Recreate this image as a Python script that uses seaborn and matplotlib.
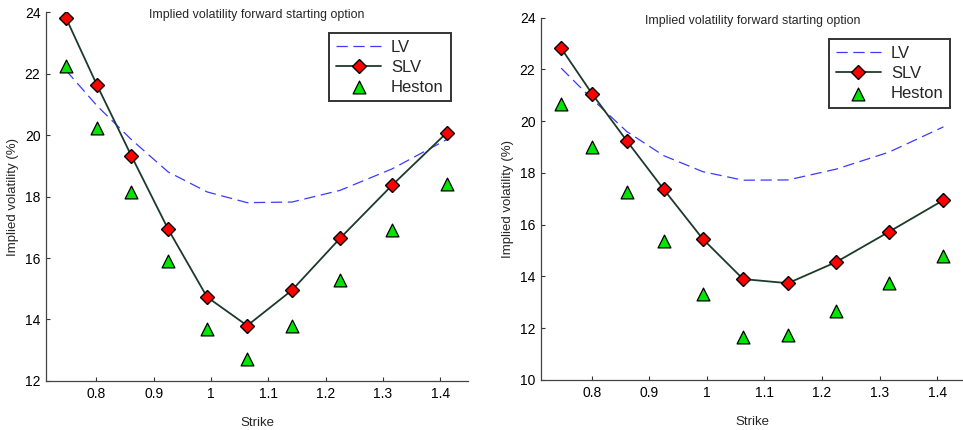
import matplotlib
matplotlib.use("Agg")
import matplotlib.pyplot as plt
import seaborn as sns
import pandas as pd

sns.set_style("white")
plt.rcParams['font.family'] = ['Liberation Sans', 'DejaVu Sans']

strikes = [0.747, 0.801, 0.861, 0.925, 0.993, 1.063, 1.141, 1.225, 1.316, 1.411]

lv_left = [22.10, 20.95, 19.85, 18.80, 18.15, 17.80, 17.82, 18.20, 18.90, 19.85]
slv_left = [23.80, 21.62, 19.32, 16.94, 14.73, 13.80, 14.95, 16.64, 18.37, 20.07]
heston_left = [22.23, 20.24, 18.15, 15.89, 13.70, 12.73, 13.79, 15.27, 16.90, 18.42]

lv_right = [22.05, 20.85, 19.60, 18.67, 18.05, 17.72, 17.73, 18.15, 18.80, 19.78]
slv_right = [22.82, 21.05, 19.24, 17.37, 15.45, 13.90, 13.74, 14.56, 15.72, 16.95]
heston_right = [20.67, 19.00, 17.25, 15.36, 13.32, 11.66, 11.72, 12.68, 13.73, 14.80]

y_ticks_left = [12, 14, 16, 18, 20, 22, 24]
y_ticks_right = [10, 12, 14, 16, 18, 20, 22, 24]
x_ticks = [0.8, 0.9, 1.0, 1.1, 1.2, 1.3, 1.4]
x_tick_labels = ["0.8", "0.9", "1", "1.1", "1.2", "1.3", "1.4"]

title = "Implied volatility forward starting option"

fig = plt.figure(figsize=(9.63, 4.30), dpi=100)
ax1 = fig.add_axes([0.0478, 0.114, 0.438, 0.858])
ax2 = fig.add_axes([0.5618, 0.1163, 0.440, 0.8426])

def draw(ax, lv, slv, heston, yticks, legend_anchor):
    df = pd.DataFrame({"Strike": strikes, "LV": lv, "SLV": slv, "Heston": heston})
    sns.lineplot(data=df, x="Strike", y="LV", ax=ax, color="#3b3bff", lw=0.9,
                 linestyle=(0, (9, 4.5)), label="LV")
    sns.lineplot(data=df, x="Strike", y="SLV", ax=ax, color="#1c3a2c", lw=1.3,
                 marker="D", markersize=7, markerfacecolor="#ff0000",
                 markeredgecolor="black", markeredgewidth=1.0, label="SLV")
    sns.scatterplot(data=df, x="Strike", y="Heston", ax=ax, marker="^", s=85,
                    color="#00e600", edgecolor="black", linewidth=0.9,
                    label="Heston", zorder=3)
    ax.set_xlim(0.712, 1.448)
    ax.set_ylim(yticks[0], yticks[-1])
    ax.set_yticks(yticks)
    ax.set_yticklabels([str(t) for t in yticks])
    ax.set_xticks(x_ticks)
    ax.set_xticklabels(x_tick_labels)
    ax.tick_params(direction="in", length=3, width=0.8, labelsize=10,
                   colors="#333333", labelcolor="black", pad=4,
                   left=True, bottom=True)
    for s in ["top", "right"]:
        ax.spines[s].set_visible(False)
    for s in ["left", "bottom"]:
        ax.spines[s].set_color("#444444")
        ax.spines[s].set_linewidth(0.9)
    ax.set_xlabel("Strike", fontsize=9.5, labelpad=12)
    ax.set_ylabel("Implied volatility (%)", fontsize=9.5, labelpad=4)
    ax.text(0.5, 1.008, title, transform=ax.transAxes, ha="center", va="top",
            fontsize=8.9)
    leg = ax.legend(loc="upper right", bbox_to_anchor=legend_anchor,
                    fontsize=12, frameon=True, fancybox=False, handlelength=2.7,
                    handletextpad=0.6, borderpad=0.4, labelspacing=0.3,
                    borderaxespad=0.0)
    leg.get_frame().set_edgecolor("black")
    leg.get_frame().set_linewidth(1.4)

draw(ax1, lv_left, slv_left, heston_left, y_ticks_left, (0.959, 0.943))
draw(ax2, lv_right, slv_right, heston_right, y_ticks_right, (0.966, 0.940))

fig.savefig("out.png", dpi=100)
